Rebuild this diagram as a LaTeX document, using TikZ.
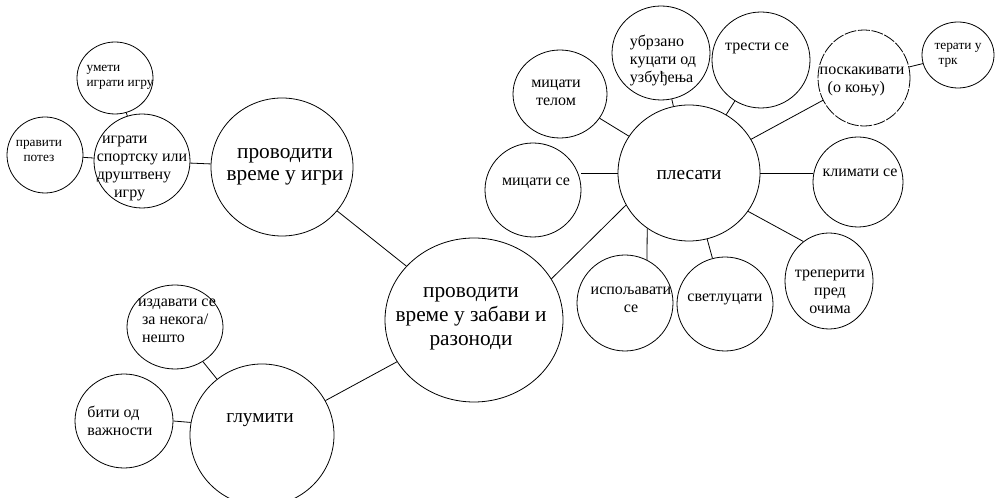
\documentclass[tikz,border=0pt]{standalone}
\usepackage{fontspec}
\setmainfont{Liberation Serif}
\usepackage{tikz}
\usetikzlibrary{shapes.geometric,calc}

\begin{document}
\begin{tikzpicture}[
    x=0.75pt, y=-0.75pt,
    bubble/.style 2 args={
        % the circle
        ellipse, draw, line width=0.6pt,
        inner sep=0pt,
        minimum width=#1*1.5pt, minimum height=#2*1.5pt},
    link/.style={line width=0.6pt},
    % the fonts
    bigtext/.style={font=\fontsize{16}{18}\selectfont, align=center, inner sep=0pt},
    midtext/.style={font=\fontsize{14.5}{17}\selectfont, align=center, inner sep=0pt},
    smalltext/.style={font=\fontsize{12}{13.5}\selectfont, align=center, inner sep=0pt},
    tinytext/.style={font=\fontsize{10}{11}\selectfont, align=center, inner sep=0pt}
  ]
  \path[fill=white] (0,0) rectangle (996,498);
  \useasboundingbox (0,0) rectangle (996,498);

  % main bubble and its three branches
  \node (C) [bubble={89}{82}] at (474,320) {};
  \node (I) [bubble={71}{69}] at (282,167) {};
  \node (G) [bubble={72}{71}] at (262,435) {};
  \node (P) [bubble={71}{68}] at (689,173) {};

  % left upper group
  \node (S) [bubble={48}{47}] at (142,161) {};
  \node (U) [bubble={38}{36}] at (115,78) {};
  \node (R) [bubble={38}{38}] at (45,155) {};

  % left lower group
  \node (Z) [bubble={48}{42}] at (175,327) {};
  \node (B) [bubble={49}{47}] at (124,421) {};

  % right group
  \node (T) [bubble={47}{44}] at (560,94) {};
  \node (K) [bubble={49}{47}] at (661,53) {};
  \node (Ts) [bubble={49}{48}] at (761,60) {};
  \node (Pk) [bubble={46}{48}, dash pattern=on 9pt off 1.2pt] at (864,78) {};
  \node (Tr) [bubble={36}{33}] at (958,55) {};
  \node (Kl) [bubble={45}{45}] at (858,182) {};
  \node (Tp) [bubble={44}{48}] at (829,281) {};
  \node (Is) [bubble={48}{48}] at (625,303) {};
  \node (Sv) [bubble={48}{47}] at (725,304) {};
  \node (Ms) [bubble={48}{47}] at (533,190) {};

  % texts
  \node (C-t) [bigtext] at (471,319) {проводити\\време у забави и\\разоноди};
  \node (I-t) [bigtext, font=\fontsize{16}{16.5}\selectfont] at (285,167) {проводити\\време у игри};
  \node (G-t) [midtext] at (260,420) {глумити};
  \node (P-t) [midtext] at (689,175) {плесати};
  \node (S-t) [smalltext, align=left] at (142,168) {\hspace{4pt}играти\\спортску или\\друштвену\\\hspace{13pt}игру};
  \node (U-t) [tinytext, align=left] at (120,77) {умети\\играти игру};
  \node (R-t) [tinytext] at (39,151) {правити\\потез};
  \node (Z-t) [smalltext, align=left] at (177,321) {издавати се\\\hspace{3pt}за некога/\\\hspace{3pt}нешто};
  \node (B-t) [smalltext, align=left] at (120,421) {бити од\\важности};
  \node (T-t) [smalltext] at (556,93) {мицати\\телом};
  \node (K-t) [smalltext, align=left] at (663,61) {убрзано\\куцати од\\узбуђења};
  \node (Ts-t) [smalltext] at (757,48) {трести се};
  \node (Pk-t) [smalltext, align=left] at (862,81) {поскакивати\\\hspace{6pt}(о коњу)};
  \node (Tr-t) [tinytext, align=left] at (958,55) {терати у\\\hspace{3pt}трк};
  \node (Kl-t) [smalltext] at (860,173) {климати се};
  \node (Tp-t) [smalltext] at (830,292) {треперити\\пред\\очима};
  \node (Is-t) [smalltext] at (631,300) {испољавати\\се};
  \node (Sv-t) [smalltext] at (725,299) {светлуцати};
  \node (Ms-t) [smalltext] at (536,183) {мицати се};

  % connectors
  \draw [link] (C) -- (I);
  \draw [link] (C.28) -- (P.207);
  \draw [link] (C) -- (G);
  \draw [link] (I) -- (S);
  \draw [link] (S) -- (U);
  \draw [link] (S) -- (R);
  \draw [link] (G) -- (Z);
  \draw [link] (B.east) -- (G.170);
  \draw [link] (P) -- (T);
  \draw [link] (P) -- (K);
  \draw [link] (P) -- (Ts);
  \draw [link] (P) -- (Pk);
  \draw [link] (Pk) -- (Tr);
  \draw [link] (P.east) -- (P.east -| Kl.west);
  \draw [link] (P.-33) -- (Tp.123);
  \draw [link] (P.233) -- (Is.63);
  \draw [link] (P) -- (Sv);
  \draw [link] (P.west) -- (P.west -| Ms.east);
\end{tikzpicture}
\end{document}
